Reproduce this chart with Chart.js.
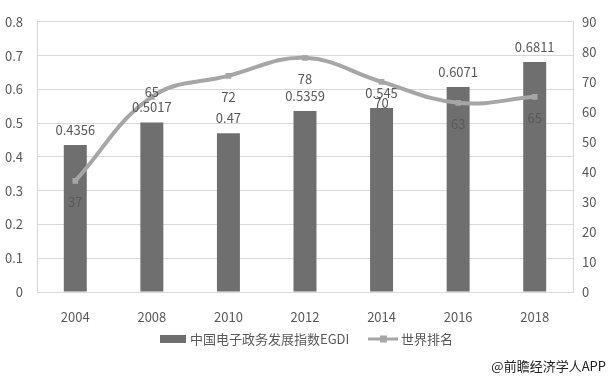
<!DOCTYPE html>
<html>
<head>
<meta charset="utf-8">
<script src="https://cdn.jsdelivr.net/npm/chart.js@4/dist/chart.umd.min.js"></script>
<style>
  html, body { margin: 0; padding: 0; background: #fff; }
  #wrap { position: relative; width: 610px; height: 377px; }
  #credit { position: absolute; right: 4px; top: 356px; font: 13px "Noto Sans CJK SC", sans-serif; color: #222; }
</style>
</head>
<body>
<div id="wrap">
  <canvas id="chart" width="610" height="377"></canvas>
  <div id="credit">@前瞻经济学人APP</div>
</div>
<script>
var years = ["2004", "2008", "2010", "2012", "2014", "2016", "2018"];
var egdi = [0.4356, 0.5017, 0.47, 0.5359, 0.545, 0.6071, 0.6811];
var rank = [37, 65, 72, 78, 70, 63, 65];
var egdiTicks = [0, 0.1, 0.2, 0.3, 0.4, 0.5, 0.6, 0.7, 0.8];
var rankTicks = [0, 10, 20, 30, 40, 50, 60, 70, 80, 90];

var barColor = '#6f6f6f';
var lineColor = '#a6a6a6';
var textColor = '#595959';
var font = '"Noto Sans CJK SC", "Noto Sans", sans-serif';

var valueLabels = {
    id: 'valueLabels',
    afterDatasetsDraw: function (chart) {
        var c = chart.ctx;
        c.save();
        c.font = '13px ' + font;
        c.fillStyle = textColor;
        c.textAlign = 'center';
        c.textBaseline = 'middle';
        chart.getDatasetMeta(1).data.forEach(function (el, i) {
            c.fillText(String(egdi[i]), el.x, el.y - 15);
        });
        chart.getDatasetMeta(0).data.forEach(function (el, i) {
            var dy = i === 1 ? -5 : 21;
            c.fillText(String(rank[i]), el.x, el.y + dy);
        });
        c.restore();
    }
};

var legendBox = {
    id: 'legendBox',
    afterDraw: function (chart) {
        var c = chart.ctx;
        var y = 339;
        c.save();
        c.font = '13px ' + font;
        c.fillStyle = textColor;
        c.textBaseline = 'middle';
        c.fillStyle = barColor;
        c.fillRect(160, y - 4, 26, 8);
        c.fillStyle = textColor;
        c.fillText('中国电子政务发展指数EGDI', 190, y);
        c.strokeStyle = lineColor;
        c.lineWidth = 3;
        c.beginPath();
        c.moveTo(368, y);
        c.lineTo(398, y);
        c.stroke();
        c.fillStyle = lineColor;
        c.fillRect(380, y - 3.5, 7, 7);
        c.fillStyle = textColor;
        c.fillText('世界排名', 401, y);
        c.restore();
    }
};

var ctx = document.getElementById('chart');

var chartGraph = new Chart(ctx, {
    data: {
        labels: years,
        datasets: [{
            type: 'line',
            label: '世界排名',
            data: rank,
            yAxisID: 'y1',
            borderColor: lineColor,
            backgroundColor: lineColor,
            borderWidth: 4,
            tension: 0.4,
            pointStyle: 'rect',
            pointRadius: 4,
            pointBackgroundColor: lineColor,
            pointBorderWidth: 0,
            order: 0
        },
        {
            type: 'bar',
            label: '中国电子政务发展指数EGDI',
            data: egdi,
            yAxisID: 'y',
            backgroundColor: barColor,
            barPercentage: 0.6,
            categoryPercentage: 0.5,
            order: 1
        }]
    },
    options: {
        responsive: false,
        animation: false,
        layout: { padding: { top: 19, left: 0, right: 0, bottom: 0 } },
        plugins: {
            legend: { display: false },
            tooltip: { enabled: false }
        },
        scales: {
            x: {
                grid: { display: false },
                border: { color: '#d9d9d9' },
                ticks: { color: textColor, font: { family: font, size: 13 }, padding: 9 },
                afterFit: function (s) { s.height = 85; }
            },
            y: {
                position: 'left',
                min: 0,
                max: 0.8,
                afterBuildTicks: function (s) { s.ticks = egdiTicks.map(function (v) { return { value: v }; }); },
                grid: { color: '#d9d9d9', drawTicks: false },
                border: { color: '#d9d9d9' },
                ticks: { color: textColor, font: { family: font, size: 13 }, padding: 14,
                    callback: function (v) { return String(Math.round(v * 10) / 10); } },
                afterFit: function (s) { s.width = 37; }
            },
            y1: {
                position: 'right',
                min: 0,
                max: 90,
                afterBuildTicks: function (s) { s.ticks = rankTicks.map(function (v) { return { value: v }; }); },
                grid: { display: false, drawTicks: false },
                border: { color: '#d9d9d9' },
                ticks: { color: textColor, font: { family: font, size: 13 }, padding: 9 },
                afterFit: function (s) { s.width = 37; }
            }
        }
    },
    plugins: [valueLabels, legendBox]
});
</script>
</body>
</html>
